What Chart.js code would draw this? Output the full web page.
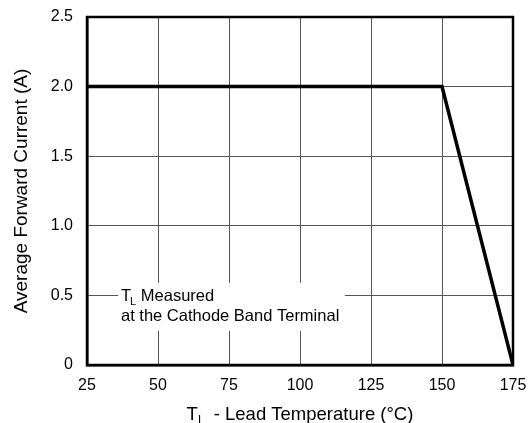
<!DOCTYPE html>
<html>
<head>
<meta charset="utf-8">
<script src="https://cdn.jsdelivr.net/npm/chart.js@4"></script>
<style>
html,body{margin:0;padding:0;background:#fff;}
#wrap{width:529px;height:423px;position:relative;}
</style>
</head>
<body>
<div id="wrap"><canvas id="c"></canvas></div>
<script>
// Data
const temperatures = [25, 150, 175];
const forwardCurrent = [2.0, 2.0, 0];
const xTicks = [25, 50, 75, 100, 125, 150, 175];
const yTicks = [0, 0.5, 1.0, 1.5, 2.0, 2.5];
const yTickLabels = ['0', '0.5', '1.0', '1.5', '2.0', '2.5'];
const yTitle = 'Average Forward Current (A)';
const xTitleMain = 'T';
const xTitleSub = 'L';
const xTitleRest = ' - Lead Temperature (°C)';
const noteLine1Main = 'T';
const noteLine1Sub = 'L';
const noteLine1Rest = ' Measured';
const noteLine2 = 'at the Cathode Band Terminal';

const FONT = '"Liberation Sans", Arial, Helvetica, sans-serif';

const overlay = {
  id: 'overlay',
  beforeDatasetsDraw(chart) {
    const {ctx, chartArea: a} = chart;
    const xs = chart.scales.x, ys = chart.scales.y;
    ctx.save();
    // white note box interrupting grid
    const bx0 = a.left + 31, bx1 = xs.getPixelForValue(115.8);
    const by0 = ys.getPixelForValue(0.59), by1 = ys.getPixelForValue(0.245);
    ctx.fillStyle = '#fff';
    ctx.fillRect(bx0, by0, bx1 - bx0, by1 - by0);
    ctx.fillStyle = '#000';
    ctx.textBaseline = 'alphabetic';
    ctx.textAlign = 'left';
    const tx = bx0 + 3;
    const base1 = ys.getPixelForValue(0.5) + 6;
    ctx.font = '16.5px ' + FONT;
    ctx.fillText(noteLine1Main, tx, base1);
    const w = ctx.measureText(noteLine1Main).width;
    ctx.font = '11px ' + FONT;
    ctx.fillText(noteLine1Sub, tx + w - 1, base1 + 4);
    const w2 = ctx.measureText(noteLine1Sub).width;
    ctx.font = '16.5px ' + FONT;
    ctx.fillText(noteLine1Rest, tx + w + w2 - 1, base1);
    ctx.fillText(noteLine2, tx, base1 + 20);
    ctx.restore();
  },
  afterDraw(chart) {
    const {ctx, chartArea: a} = chart;
    ctx.save();
    // frame
    ctx.strokeStyle = '#000';
    ctx.lineWidth = 2.5;
    ctx.strokeRect(a.left, a.top, a.right - a.left, a.bottom - a.top);
    ctx.fillStyle = '#000';
    ctx.textBaseline = 'alphabetic';
    ctx.textAlign = 'left';
    // x title with subscript
    ctx.font = '18.5px ' + FONT;
    const wMain = ctx.measureText(xTitleMain).width;
    const wRest = ctx.measureText(xTitleRest).width;
    ctx.font = '12px ' + FONT;
    const wSub = ctx.measureText(xTitleSub).width;
    const gap = 4;
    const total = wMain + wSub + gap + wRest;
    const cx = (a.left + a.right) / 2;
    const x0 = cx - total / 2;
    const base = a.bottom + 55;
    ctx.font = '18.5px ' + FONT;
    ctx.fillText(xTitleMain, x0, base);
    ctx.font = '12px ' + FONT;
    ctx.fillText(xTitleSub, x0 + wMain, base + 4);
    ctx.font = '18.5px ' + FONT;
    ctx.fillText(xTitleRest, x0 + wMain + wSub + gap, base);
    // y title
    ctx.translate(a.left - 60, (a.top + a.bottom) / 2);
    ctx.rotate(-Math.PI / 2);
    ctx.textAlign = 'center';
    ctx.font = '19px ' + FONT;
    ctx.fillText(yTitle, 0, 0);
    ctx.restore();
  }
};

new Chart(document.getElementById('c'), {
  type: 'line',
  data: {
    datasets: [{
      data: temperatures.map((t, i) => ({x: t, y: forwardCurrent[i]})),
      borderColor: '#000',
      borderWidth: 3.5,
      pointRadius: 0,
      tension: 0,
      fill: false
    }]
  },
  options: {
    responsive: true,
    maintainAspectRatio: false,
    animation: false,
    devicePixelRatio: 1,
    layout: {padding: {top: 17, right: 16, bottom: 0, left: 0}},
    plugins: {legend: {display: false}, tooltip: {enabled: false}},
    scales: {
      x: {
        type: 'linear',
        min: 25, max: 175,
        afterBuildTicks: s => { s.ticks = xTicks.map(v => ({value: v})); },
        afterFit: s => { s.height = 58; s.paddingLeft = 0; s.paddingRight = 0; },
        ticks: {color: '#000', font: {family: FONT, size: 16}, padding: 11, maxRotation: 0},
        grid: {color: '#555', lineWidth: 1, drawTicks: false},
        border: {color: '#000', width: 2.5}
      },
      y: {
        type: 'linear',
        min: 0, max: 2.5,
        afterBuildTicks: s => { s.ticks = yTicks.map(v => ({value: v})); },
        afterFit: s => { s.width = 87; s.paddingTop = 0; s.paddingBottom = 0; },
        ticks: {
          color: '#000', font: {family: FONT, size: 16}, padding: 14,
          callback: v => yTickLabels[yTicks.indexOf(v)]
        },
        grid: {color: '#555', lineWidth: 1, drawTicks: false},
        border: {color: '#000', width: 2.5}
      }
    }
  },
  plugins: [overlay]
});
</script>
</body>
</html>
